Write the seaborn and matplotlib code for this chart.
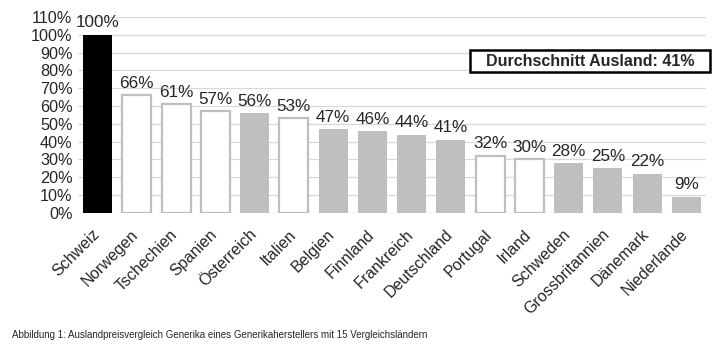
import pandas as pd
import matplotlib.pyplot as plt
import matplotlib.transforms as mtransforms
from matplotlib.patches import Rectangle
import seaborn as sns

countries = ["Schweiz", "Norwegen", "Tschechien", "Spanien", "Österreich", "Italien",
             "Belgien", "Finnland", "Frankreich", "Deutschland", "Portugal", "Irland",
             "Schweden", "Grossbritannien", "Dänemark", "Niederlande"]
values = [100, 66, 61, 57, 56, 53, 47, 46, 44, 41, 32, 30, 28, 25, 22, 9]
groups = ["ch", "white", "white", "white", "grey", "white",
          "grey", "grey", "grey", "grey", "white", "white",
          "grey", "grey", "grey", "grey"]
yticks = list(range(0, 111, 10))
average_label = "Durchschnitt Ausland: 41%"
caption = "Abbildung 1: Auslandpreisvergleich Generika eines Generikaherstellers mit 15 Vergleichsländern"


def main():
    sns.set_style("white")
    plt.rcParams["font.family"] = ["Liberation Sans", "DejaVu Sans"]

    df = pd.DataFrame({"Land": countries, "Wert": values, "Gruppe": groups})
    fills = {"ch": "black", "white": "white", "grey": "#bfbfbf"}

    fig = plt.figure(figsize=(7.19, 3.62), dpi=100)
    ax = fig.add_axes([78 / 719, 0.412, 628 / 719, 0.541])

    sns.barplot(data=df, x="Land", y="Wert", hue="Gruppe", palette=fills,
                dodge=False, width=0.74, legend=False, ax=ax, zorder=3)

    # white bars get a grey outline, the others none
    for bar_container, grp_name in zip(ax.containers, df["Gruppe"].unique()):
        for patch in bar_container:
            if grp_name == "white":
                patch.set_edgecolor("#bfbfbf")
                patch.set_linewidth(1.6)
            else:
                patch.set_edgecolor(fills[grp_name])
                patch.set_linewidth(0)

    # value labels
    for i, v in enumerate(values):
        ax.text(i, v + 2.5, f"{v}%", ha="center", va="bottom", fontsize=12.3)

    ax.set_ylim(0, 110)
    ax.set_xlim(-0.5, len(countries) - 0.5)
    ax.set_yticks(yticks)
    ax.set_yticklabels([f"{t}%" for t in yticks], fontsize=11.7)
    ax.set_xticks(range(len(countries)))
    ax.set_xticklabels(countries, rotation=45, ha="right", rotation_mode="anchor", fontsize=11.5)
    ax.tick_params(axis="x", length=0, pad=10)
    ax.tick_params(axis="y", length=0, pad=4)

    # nudge rotated labels a bit to the left so they end under the bar
    shift = mtransforms.ScaledTranslation(-0.06, 0, fig.dpi_scale_trans)
    for lbl in ax.get_xticklabels():
        lbl.set_transform(lbl.get_transform() + shift)

    ax.grid(axis="y", color="#d9d9d9", linewidth=0.9, zorder=0)
    ax.set_axisbelow(True)
    ax.set_xlabel("")
    ax.set_ylabel("")
    sns.despine(ax=ax, left=True, bottom=True)

    # average box
    fig.patches.append(Rectangle((470 / 719, 1 - 72 / 362), 240 / 719, 22 / 362,
                                 transform=fig.transFigure, facecolor="white",
                                 edgecolor="black", linewidth=1.8, zorder=5))
    fig.text(590 / 719, 1 - 61 / 362, average_label, ha="center", va="center",
             fontsize=11.5, fontweight="bold", zorder=6)

    fig.text(0.016, 0.075, caption, fontsize=7, ha="left", va="center")

    plt.savefig("out.png", dpi=100)


if __name__ == "__main__":
    main()
